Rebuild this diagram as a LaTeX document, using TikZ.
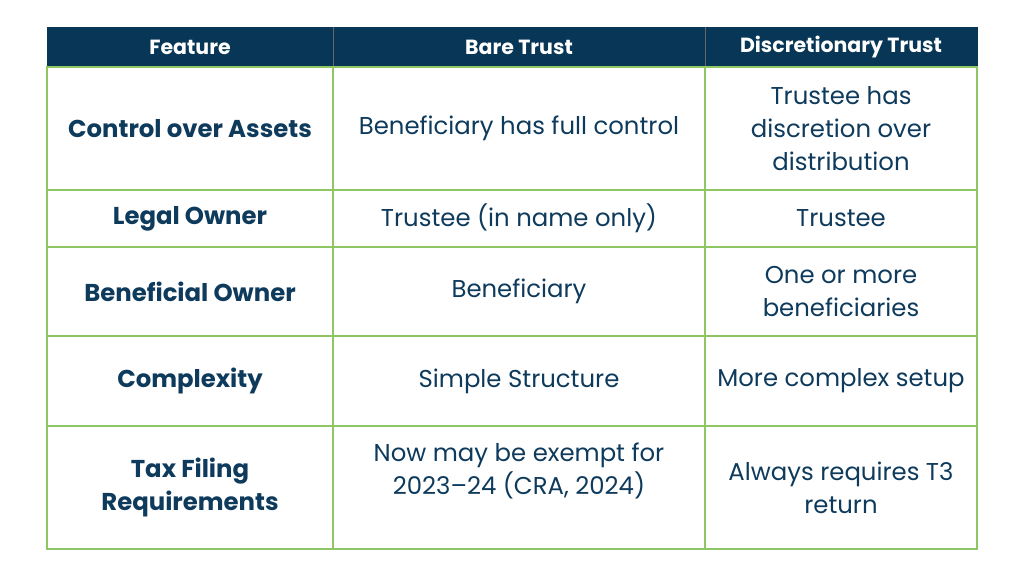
\documentclass[tikz,border=0pt]{standalone}
\usepackage{fontspec}
\setmainfont{Poppins}
\definecolor{navy}{HTML}{073656}
\definecolor{tgreen}{HTML}{8DC663}
\definecolor{ink}{HTML}{0E3A5C}
\begin{document}
\begin{tikzpicture}[x=0.03cm, y=-0.03cm,
    cell/.style={draw=tgreen, line width=0.9pt, text=ink, font=\fontsize{20.8}{28}\selectfont, align=center, inner sep=0pt},
    headcell/.style={draw=navy, fill=navy, text=white, font=\fontsize{17.5}{21}\selectfont\bfseries, inner sep=0pt},
    keycell/.style={cell, font=\fontsize{20.8}{28}\selectfont\bfseries}]
    \useasboundingbox (0,0) rectangle (1024,576);
    % header
    \node[headcell, minimum width=8.58cm, minimum height=1.2cm] (hfeat) at (190, 47) {Feature};
    \node[headcell, minimum width=11.16cm, minimum height=1.2cm] (hbare) at (519, 47) {Bare Trust};
    \node[headcell, minimum width=8.16cm, minimum height=1.2cm] (hdisc) at (841, 47) {Discretionary Trust};
    \draw[black!60, line width=0.6pt] (hfeat.north east) -- (hfeat.south east);
    \draw[black!60, line width=0.6pt] (hbare.north east) -- (hbare.south east);
    % rows
    \node[keycell, minimum width=8.58cm, minimum height=3.69cm] (f1) at (190, 128.5) {Control over Assets};
    \node[cell, minimum width=11.16cm, minimum height=3.69cm] (b1) at (519, 128.5) {Beneficiary has full control};
    \node[cell, minimum width=8.16cm, minimum height=3.69cm] (d1) at (841, 128.5) {Trustee has\\discretion over\\distribution};
    \node[keycell, minimum width=8.58cm, minimum height=1.71cm] (f2) at (190, 218.5) {Legal Owner};
    \node[cell, minimum width=11.16cm, minimum height=1.71cm] (b2) at (519, 218.5) {Trustee (in name only)};
    \node[cell, minimum width=8.16cm, minimum height=1.71cm] (d2) at (841, 218.5) {Trustee};
    \node[keycell, minimum width=8.58cm, minimum height=2.67cm] (f3) at (190, 291.5) {Beneficial Owner};
    \node[cell, minimum width=11.16cm, minimum height=2.67cm] (b3) at (519, 291.5) {Beneficiary};
    \node[cell, minimum width=8.16cm, minimum height=2.67cm] (d3) at (841, 291.5) {One or more\\beneficiaries};
    \node[keycell, minimum width=8.58cm, minimum height=2.7cm] (f4) at (190, 381) {Complexity};
    \node[cell, minimum width=11.16cm, minimum height=2.7cm] (b4) at (519, 381) {Simple Structure};
    \node[cell, minimum width=8.16cm, minimum height=2.7cm] (d4) at (841, 381) {More complex setup};
    \node[keycell, minimum width=8.58cm, minimum height=3.69cm] (f5) at (190, 487.5) {Tax Filing\\Requirements};
    \node[cell, minimum width=11.16cm, minimum height=3.69cm] (b5) at (519, 487.5) {};
    \node[text=ink, font=\fontsize{20.8}{28}\selectfont, align=center] (b5text) at (519, 471) {Now may be exempt for\\2023–24 (CRA, 2024)};
    \node[cell, minimum width=8.16cm, minimum height=3.69cm] (d5) at (841, 487.5) {Always requires T3\\return};
\end{tikzpicture}
\end{document}
